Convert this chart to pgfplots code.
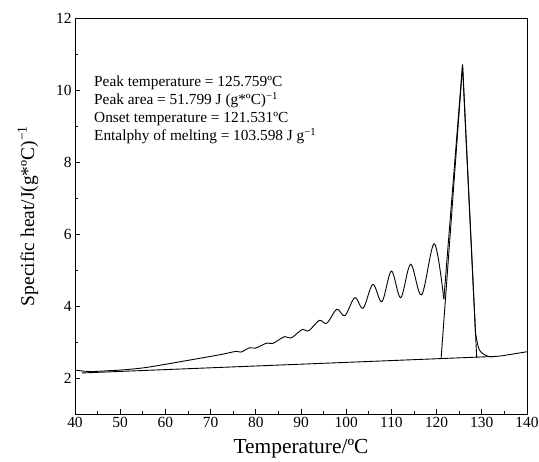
\documentclass[border=0pt]{standalone}
\usepackage{fontspec}
\setmainfont{Liberation Serif}
\usepackage{pgfplots}
\pgfplotsset{compat=1.18}
\begin{document}
\begin{tikzpicture}
\begin{axis}[
 scale only axis, width=452bp, height=396bp,
 xmin=40, xmax=140, ymin=1, ymax=12,
 xtick={40,50,...,140}, ytick={2,4,...,12},
 minor x tick num=1, minor y tick num=1,
 tick pos=left, tick align=inside,
 major tick length=5bp, minor tick length=3bp,
 /pgf/number format/assume math mode=true,
 ticklabel style={font=\fontsize{15.5}{15.5}\selectfont},
 xlabel style={font=\fontsize{21.5}{22}\selectfont},
 ylabel style={font=\fontsize{19.5}{20}\selectfont},
 xlabel shift=4bp,
 ylabel shift=11bp,
 xlabel={Temperature/ºC},
 ylabel={Specific heat/J(g*ºC)\textsuperscript{−1}},
 axis line style={line width=0.8bp},
 every tick/.style={line width=0.8bp, black},
 clip=false,
]
% wiggly part of the curve
\addplot[black, line width=0.9bp, smooth, tension=0.55] coordinates {
(40,2.22) (42,2.19) (44,2.18) (47,2.20) (50,2.22) (55,2.28) (60,2.38) (65,2.49) (70,2.60) (73,2.67)
(75.66,2.74) (76.76,2.72) (78.6,2.84) (79.93,2.83) (82.43,2.97) (83.75,2.96)
(86.4,3.15) (87.8,3.11) (90.3,3.35) (91.7,3.31) (94.04,3.60) (95.7,3.52)
(97.94,3.91) (99.7,3.73) (101.9,4.23) (103.75,3.94) (105.9,4.60) (107.9,4.12)
(110.0,4.97) (112.06,4.23) (114.26,5.16) (116.69,4.31) (119.49,5.73) (121.6,4.19)
};
% melting peak and tail
\addplot[black, line width=0.9bp] coordinates {
(121.6,4.19) (125.72,10.69) (128.6,3.25)
};
\addplot[black, line width=0.9bp, smooth, tension=0.5] coordinates {
(128.6,3.25) (129.2,2.87) (129.75,2.73) (130.7,2.64) (131.8,2.59) (133,2.6) (134.6,2.62) (140,2.73)
};
% baseline and tangent construction
\addplot[black, line width=0.9bp] coordinates {(41.5,2.14) (133,2.6)};
\addplot[black, line width=0.9bp] coordinates {(121.0,2.55) (125.76,10.71) (128.87,2.57)};
\node[anchor=west, align=left, inner sep=0pt,
 font=\fontsize{15.4}{17.9}\selectfont] at (axis cs:44.2,9.45)
 {Peak temperature = 125.759ºC\\
  Peak area = 51.799 J (g*ºC)\textsuperscript{−1}\\
  Onset temperature = 121.531ºC\\
  Entalphy of melting = 103.598 J g\textsuperscript{−1}};
\end{axis}
\pgfresetboundingbox
\path[use as bounding box] ([shift={(-75bp,-48bp)}]current axis.south west) rectangle ([shift={(12bp,18bp)}]current axis.north east);
\end{tikzpicture}
\end{document}
